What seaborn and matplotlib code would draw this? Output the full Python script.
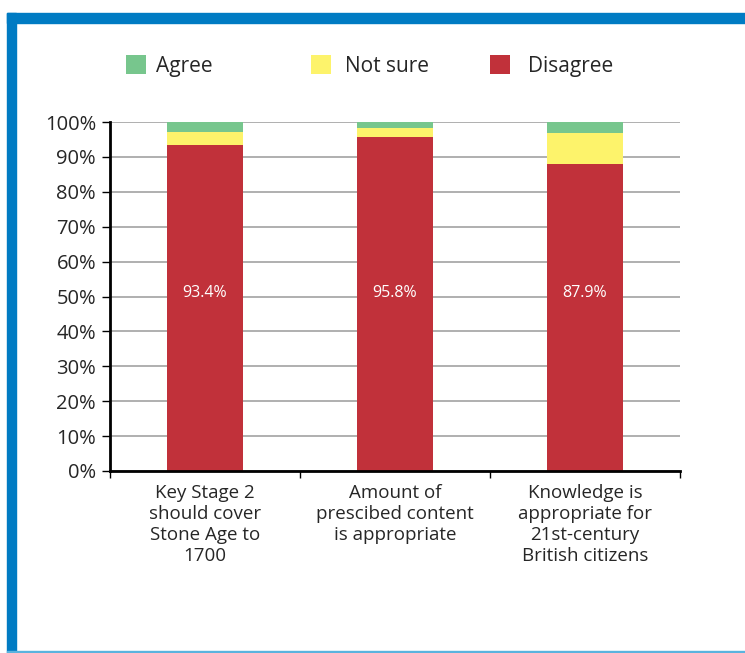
import matplotlib
matplotlib.use("Agg")
import matplotlib.pyplot as plt
from matplotlib.patches import Rectangle, Patch
import numpy as np
import pandas as pd
import seaborn as sns

categories = [
    "Key Stage 2\nshould cover\nStone Age to\n1700",
    "Amount of\nprescibed content\nis appropriate",
    "Knowledge is\nappropriate for\n21st-century\nBritish citizens",
]
disagree = [93.4, 95.8, 87.9]
not_sure = [3.6, 2.6, 8.9]
agree = [3.0, 1.6, 3.2]

series_names = ["Agree", "Not sure", "Disagree"]
colors = {"Agree": "#77c68d", "Not sure": "#fdf36b", "Disagree": "#c1313a"}

sns.set_theme(style="white")
plt.rcParams["font.family"] = ["Open Sans", "DejaVu Sans"]

fig = plt.figure(figsize=(7.45, 6.53), dpi=100)
W, H = 745, 653
ax = fig.add_axes([110 / W, 1 - 471 / H, 570 / W, 349 / H])

df = pd.DataFrame({"cat": categories, "Disagree": disagree,
                   "Not sure": not_sure, "Agree": agree})

# stacked bars: each layer sits on the running total of the layers below it
bottom = np.zeros(len(categories))
for name in ["Disagree", "Not sure", "Agree"]:
    sns.barplot(data=df, x="cat", y=name, color=colors[name], ax=ax,
                bottom=bottom, width=0.395, saturation=1, linewidth=0, zorder=3)
    bottom = bottom + df[name].to_numpy()

for i, v in enumerate(disagree):
    ax.text(i, 51, f"{v}%", ha="center", va="center", color="white",
            fontsize=11.5, zorder=5)

ax.set_xlim(-0.5, 2.5)
ax.set_ylim(0, 100)
ax.set_yticks(np.arange(0, 101, 10))
ax.set_yticklabels([f"{t}%" for t in range(0, 101, 10)], fontsize=14.5)
ax.yaxis.grid(True, color="#9a9a9a", linewidth=1.1, zorder=0)
ax.set_axisbelow(True)
ax.set_xlabel("")
ax.set_ylabel("")
ax.set_xticks([0, 1, 2])
ax.set_xticklabels(categories, fontsize=13.5, linespacing=1.23)
ax.set_xticks([-0.5, 0.5, 1.5, 2.5], minor=True)
ax.tick_params(axis="x", which="major", length=0, pad=9)
ax.tick_params(axis="x", which="minor", length=5, width=1, color="black",
               direction="out", bottom=True)
ax.tick_params(axis="y", length=6, width=1, color="black", direction="out",
               left=True, pad=4)
for s in ["top", "right"]:
    ax.spines[s].set_visible(False)
for s in ["left", "bottom"]:
    ax.spines[s].set_color("black")
    ax.spines[s].set_linewidth(2)
    ax.spines[s].set_zorder(6)

# legend entries, each anchored at its own swatch position
legend_x = [126, 311, 490]
legend_pad = [0.5, 0.68, 0.85]
for name, x0, pad in zip(series_names, legend_x, legend_pad):
    fig.legend([Patch(facecolor=colors[name], edgecolor="none")], [name],
               loc="center left", bbox_to_anchor=(x0 / W, 1 - 66 / H),
               frameon=False, fontsize=15, borderpad=0, borderaxespad=0,
               handlelength=0.96, handleheight=0.96, handletextpad=pad)

# blue frame around the panel
fig.patches.append(Rectangle((7 / W, 1 - 23 / H), 1, 10 / H,
                             transform=fig.transFigure, color="#007bc3",
                             zorder=10))
fig.patches.append(Rectangle((7 / W, 0), 9 / W, 1 - 13 / H,
                             transform=fig.transFigure, color="#007bc3",
                             zorder=10))
fig.patches.append(Rectangle((7 / W, 1 / H), 1, 1.2 / H,
                             transform=fig.transFigure, color="#5ab3de",
                             zorder=10))

fig.savefig("out.png", dpi=100, facecolor="white")
